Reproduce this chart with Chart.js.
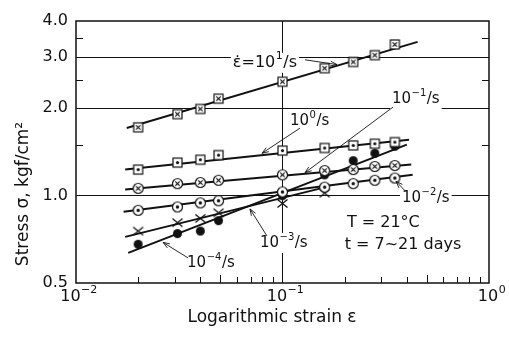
<!DOCTYPE html>
<html>
<head>
<meta charset="utf-8">
<script src="https://cdn.jsdelivr.net/npm/chart.js@4.4.0/dist/chart.umd.min.js"></script>
<style>
  html, body { margin: 0; padding: 0; background: #fff; }
  #wrap { width: 509px; height: 338px; }
</style>
</head>
<body>
<div id="wrap"><canvas id="stressChart"></canvas></div>
<script>
// strain where the specimens were measured
const strain = [0.02, 0.031, 0.04, 0.049, 0.1, 0.16, 0.22, 0.28, 0.35];

// stress (kgf/cm2) for each strain rate
const stressRate1 = [1.72, 1.91, 1.99, 2.16, 2.47, 2.75, 2.89, 3.05, 3.32];
const stressRate0 = [1.23, 1.30, 1.33, 1.38, 1.43, 1.46, 1.49, 1.51, 1.53];
const stressRateM1 = [1.06, 1.10, 1.11, 1.13, 1.18, 1.22, 1.23, 1.26, 1.27];
const stressRateM2 = [0.89, 0.914, 0.944, 0.96, 1.03, 1.07, 1.10, 1.13, 1.15];
const stressRateM3 = [0.755, 0.807, 0.835, 0.873, 0.94, 1.02];
const stressRateM4 = [0.68, 0.74, 0.755, 0.82, 1.0, 1.18, 1.32, 1.40, 1.48];

// fitted straight lines, [strain, stress] at both ends
const fitRate1 = [[0.0176, 1.71], [0.451, 3.39]];
const fitRate0 = [[0.0173, 1.23], [0.41, 1.56]];
const fitRateM1 = [[0.0173, 1.05], [0.42, 1.28]];
const fitRateM2 = [[0.017, 0.88], [0.427, 1.18]];
const fitRateM3 = [[0.0173, 0.721], [0.162, 1.07]];
const fitRateM4 = [[0.0179, 0.635], [0.40, 1.50]];

// axis ticks
const xTicks = [0.01, 0.1, 1];
const xTickExp = ['−2', '−1', '0'];
const yTicks = [0.5, 1, 2, 3, 4];
const yGrid = [1, 2, 3];
const xGrid = [0.1];
const xMinor = [0.02, 0.03, 0.04, 0.05, 0.06, 0.07, 0.08, 0.09, 0.2, 0.3, 0.4, 0.5, 0.6, 0.7, 0.8, 0.9];
const yMinor = [1.5, 2.5, 3.5];

const INK = '#111';
const FONT = '"DejaVu Sans", sans-serif';

// rate labels with leader arrows (data coordinates)
const rateNotes = [
  { pre: 'ε\u0307=10', sup: '1', post: '/s', size: 16, at: [0.0575, 2.87], from: [0.1285, 2.94], to: [0.1836, 2.83] },
  { pre: '10', sup: '0', post: '/s', size: 15, at: [0.1087, 1.80], from: [0.1216, 1.71], to: [0.0796, 1.40] },
  { pre: '10', sup: '−1', post: '/s', size: 15, at: [0.339, 2.15], from: [0.343, 2.02], to: [0.1285, 1.20] },
  { pre: '10', sup: '−2', post: '/s', size: 15, at: [0.379, 0.98], from: [0.392, 1.04], to: [0.355, 1.12] },
  { pre: '10', sup: '−3', post: '/s', size: 15, at: [0.0778, 0.687], from: [0.0841, 0.726], to: [0.0696, 0.90] },
  { pre: '10', sup: '−4', post: '/s', size: 15, at: [0.0345, 0.586], from: [0.0349, 0.61], to: [0.0264, 0.69] }
];
const conditionNotes = [
  { text: 'T = 21°C', at: [0.205, 0.805] },
  { text: 't = 7~21 days', at: [0.2, 0.676] }
];

function makeMarker(kind) {
  const c = document.createElement('canvas');
  c.width = 13; c.height = 13;
  const g = c.getContext('2d');
  const m = 6.5;
  g.strokeStyle = INK; g.fillStyle = '#fff'; g.lineWidth = 1.2;
  if (kind === 'boxX' || kind === 'boxDot') {
    g.fillRect(2, 2, 9, 9);
    g.strokeRect(2, 2, 9, 9);
    if (kind === 'boxX') {
      g.beginPath();
      g.moveTo(4.3, 4.3); g.lineTo(8.7, 8.7);
      g.moveTo(8.7, 4.3); g.lineTo(4.3, 8.7);
      g.stroke();
    } else {
      g.fillStyle = INK;
      g.beginPath(); g.arc(m, m, 1.6, 0, Math.PI * 2); g.fill();
    }
  } else if (kind === 'circX' || kind === 'circDot') {
    g.beginPath(); g.arc(m, m, 5, 0, Math.PI * 2); g.fill(); g.stroke();
    if (kind === 'circX') {
      g.beginPath();
      g.moveTo(4.3, 4.3); g.lineTo(8.7, 8.7);
      g.moveTo(8.7, 4.3); g.lineTo(4.3, 8.7);
      g.stroke();
    } else {
      g.fillStyle = INK;
      g.beginPath(); g.arc(m, m, 1.7, 0, Math.PI * 2); g.fill();
    }
  } else if (kind === 'cross') {
    g.lineWidth = 1.3;
    g.beginPath();
    g.moveTo(1.5, 2.5); g.lineTo(11.5, 10.5);
    g.moveTo(11.5, 2.5); g.lineTo(1.5, 10.5);
    g.stroke();
  } else {
    g.fillStyle = INK;
    g.beginPath(); g.arc(m, m, 4.5, 0, Math.PI * 2); g.fill();
  }
  return c;
}

function pts(ys) {
  return ys.map((y, i) => ({ x: strain[i], y: y }));
}
function seg(pair) {
  return pair.map(p => ({ x: p[0], y: p[1] }));
}
function pointSet(label, ys, kind) {
  return {
    label: label, data: pts(ys), showLine: false, order: 0,
    pointStyle: makeMarker(kind), pointRadius: 6, pointHoverRadius: 6
  };
}
function lineSet(label, pair) {
  return {
    label: label, data: seg(pair), showLine: true, order: 1,
    borderColor: INK, borderWidth: 2, pointRadius: 0, pointHoverRadius: 0
  };
}

function drawArrow(ctx, x1, y1, x2, y2) {
  const a = Math.atan2(y2 - y1, x2 - x1);
  const h = 7;
  ctx.beginPath();
  ctx.moveTo(x1, y1); ctx.lineTo(x2, y2);
  ctx.moveTo(x2 - h * Math.cos(a - 0.35), y2 - h * Math.sin(a - 0.35));
  ctx.lineTo(x2, y2);
  ctx.lineTo(x2 - h * Math.cos(a + 0.35), y2 - h * Math.sin(a + 0.35));
  ctx.stroke();
}

// "10" with a raised exponent and an optional tail, left edge at x
function drawPower(ctx, x, y, pre, sup, post, size, measureOnly) {
  const supSize = Math.round(size * 0.68);
  ctx.font = size + 'px ' + FONT;
  const w1 = ctx.measureText(pre).width;
  const w3 = ctx.measureText(post).width;
  ctx.font = supSize + 'px ' + FONT;
  const w2 = ctx.measureText(sup).width + 1;
  if (!measureOnly) {
    ctx.font = size + 'px ' + FONT;
    ctx.fillText(pre, x, y);
    if (post) ctx.fillText(post, x + w1 + w2, y);
    ctx.font = supSize + 'px ' + FONT;
    ctx.fillText(sup, x + w1 + 0.5, y - size * 0.4);
  }
  return w1 + w2 + w3;
}

const framePlugin = {
  id: 'frame',
  beforeDatasetsDraw(chart) {
    const { ctx, chartArea: a, scales: { x, y } } = chart;
    ctx.save();
    ctx.strokeStyle = INK;
    ctx.lineWidth = 1.5;
    ctx.strokeRect(a.left, a.top, a.right - a.left, a.bottom - a.top);
    ctx.lineWidth = 1;
    ctx.beginPath();
    xMinor.forEach(v => {
      const px = Math.round(x.getPixelForValue(v)) + 0.5;
      const len = (v === 0.05 || v === 0.5) ? 8 : 6;
      ctx.moveTo(px, a.bottom); ctx.lineTo(px, a.bottom - len);
    });
    yMinor.forEach(v => {
      const py = Math.round(y.getPixelForValue(v)) + 0.5;
      ctx.moveTo(a.left, py); ctx.lineTo(a.left + 7, py);
      ctx.moveTo(a.right, py); ctx.lineTo(a.right - 7, py);
    });
    ctx.stroke();

    // x tick labels as powers of ten
    ctx.fillStyle = INK;
    ctx.textBaseline = 'middle';
    ctx.textAlign = 'left';
    xTicks.forEach((v, i) => {
      const w = drawPower(ctx, 0, 0, '10', xTickExp[i], '', 16, true);
      drawPower(ctx, x.getPixelForValue(v) - w / 2 + 3, a.bottom + 14, '10', xTickExp[i], '', 16, false);
    });
    ctx.restore();
  }
};

const notesPlugin = {
  id: 'notes',
  afterDatasetsDraw(chart) {
    const { ctx, scales: { x, y } } = chart;
    ctx.save();
    ctx.fillStyle = INK;
    ctx.strokeStyle = INK;
    ctx.lineWidth = 0.9;
    ctx.textBaseline = 'middle';
    rateNotes.forEach(n => {
      const px = x.getPixelForValue(n.at[0]);
      const py = y.getPixelForValue(n.at[1]);
      const w = drawPower(ctx, px, py, n.pre, n.sup, n.post, n.size, true);
      ctx.fillStyle = '#fff';
      ctx.fillRect(px - 2, py - 10, w + 4, 20);
      ctx.fillStyle = INK;
      drawPower(ctx, px, py, n.pre, n.sup, n.post, n.size, false);
      drawArrow(ctx,
        x.getPixelForValue(n.from[0]), y.getPixelForValue(n.from[1]),
        x.getPixelForValue(n.to[0]), y.getPixelForValue(n.to[1]));
    });
    ctx.font = '16px ' + FONT;
    conditionNotes.forEach(n => {
      ctx.fillText(n.text, x.getPixelForValue(n.at[0]), y.getPixelForValue(n.at[1]));
    });

    // axis titles
    const a = chart.chartArea;
    ctx.font = '17px ' + FONT;
    ctx.textAlign = 'center';
    ctx.fillText('Logarithmic strain ε', 272, 318);
    ctx.translate(24, 194);
    ctx.rotate(-Math.PI / 2);
    ctx.fillText('Stress σ, kgf/cm²', 0, 0);
    ctx.restore();
  }
};

Chart.defaults.font.family = FONT;
Chart.defaults.color = INK;

new Chart(document.getElementById('stressChart').getContext('2d'), {
  type: 'scatter',
  data: {
    datasets: [
      pointSet('10¹/s', stressRate1, 'boxX'),
      pointSet('10⁰/s', stressRate0, 'boxDot'),
      pointSet('10⁻¹/s', stressRateM1, 'circX'),
      pointSet('10⁻²/s', stressRateM2, 'circDot'),
      pointSet('10⁻³/s', stressRateM3, 'cross'),
      pointSet('10⁻⁴/s', stressRateM4, 'dot'),
      lineSet('fit 10¹/s', fitRate1),
      lineSet('fit 10⁰/s', fitRate0),
      lineSet('fit 10⁻¹/s', fitRateM1),
      lineSet('fit 10⁻²/s', fitRateM2),
      lineSet('fit 10⁻³/s', fitRateM3),
      lineSet('fit 10⁻⁴/s', fitRateM4)
    ]
  },
  options: {
    responsive: true,
    maintainAspectRatio: false,
    animation: false,
    layout: { padding: { left: 0, top: 21, right: 20, bottom: 0 } },
    scales: {
      x: {
        type: 'logarithmic',
        min: 0.01, max: 1,
        afterFit: s => { s.height = 55; },
        afterBuildTicks: s => { s.ticks = xTicks.map(v => ({ value: v })); },
        grid: {
          drawTicks: false,
          color: c => (c.tick && xGrid.includes(c.tick.value)) ? INK : 'rgba(0,0,0,0)',
          lineWidth: 1
        },
        border: { display: false },
        ticks: { display: false }
      },
      y: {
        type: 'logarithmic',
        min: 0.5, max: 4,
        afterFit: s => { s.width = 76; },
        afterBuildTicks: s => { s.ticks = yTicks.map(v => ({ value: v })); },
        grid: {
          drawTicks: false,
          color: c => (c.tick && yGrid.includes(c.tick.value)) ? INK : 'rgba(0,0,0,0)',
          lineWidth: 1
        },
        border: { display: false },
        ticks: {
          padding: 8, autoSkip: false,
          font: { size: 16 }, color: INK,
          callback: v => Number(v).toFixed(1)
        }
      }
    },
    plugins: {
      legend: { display: false },
      tooltip: { enabled: false }
    }
  },
  plugins: [framePlugin, notesPlugin]
});
</script>
</body>
</html>
